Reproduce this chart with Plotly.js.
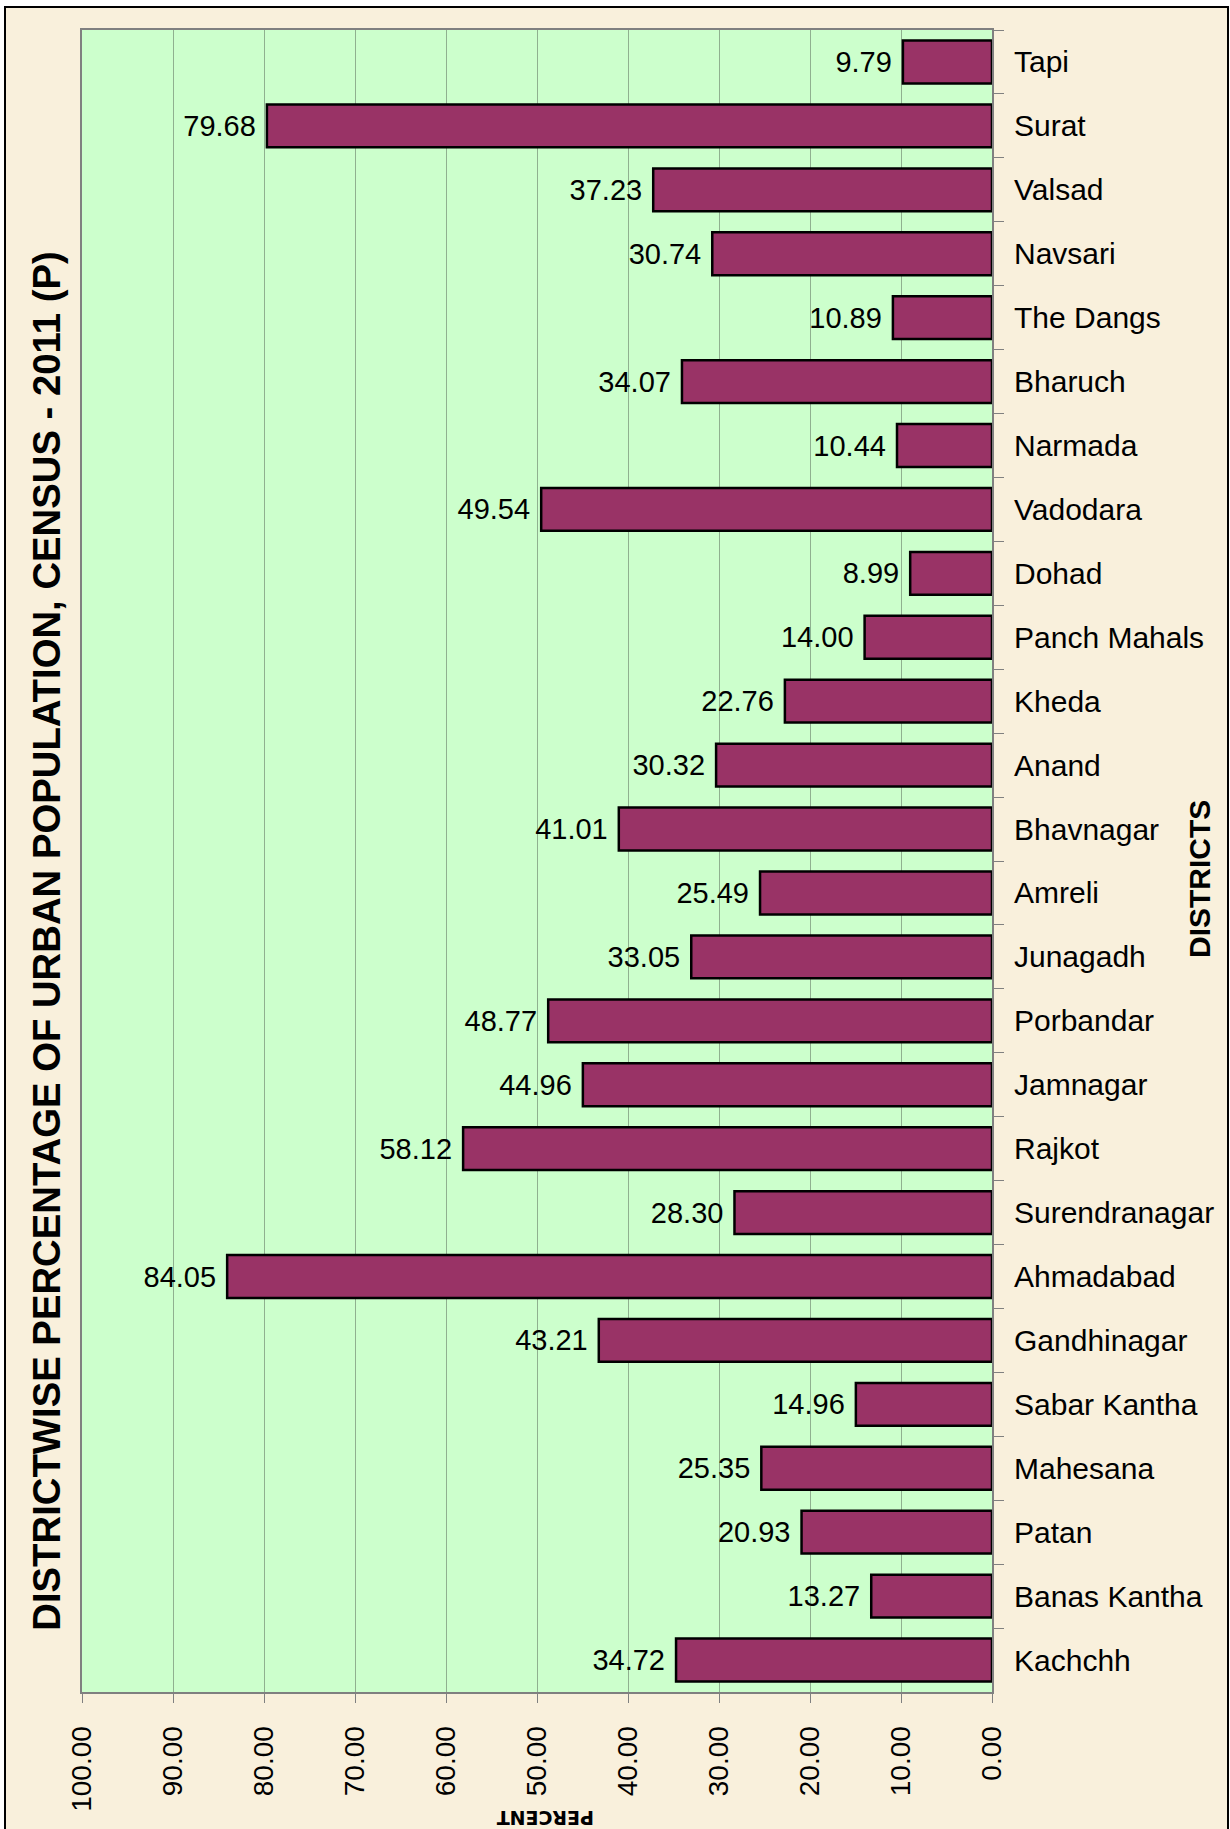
<!DOCTYPE html>
<html>
<head>
<meta charset="utf-8">
<script src="https://cdn.plot.ly/plotly-3.0.1.min.js"></script>
<style>
  html, body { margin: 0; padding: 0; background: #ffffff; }
  #wrap { position: relative; width: 1230px; height: 1829px; overflow: hidden; }
  #chart { position: absolute; left: 0; top: 0; width: 1230px; height: 1829px; }
  .ov { position: absolute; pointer-events: none; }
</style>
</head>
<body>
<div id="wrap">
  <div id="chart"></div>
  <div class="ov" style="left:0;top:0;width:1230px;height:6px;background:#fff;"></div>
  <div class="ov" style="left:0;top:0;width:4px;height:1829px;background:#fff;"></div>
  <div class="ov" style="left:4px;top:6px;width:1224px;height:2px;background:#000;"></div>
  <div class="ov" style="left:4px;top:6px;width:2px;height:1823px;background:#000;"></div>
  <div class="ov" style="left:1227px;top:6px;width:2px;height:1823px;background:#000;"></div>
  <div class="ov" style="left:1229px;top:0;width:1px;height:1829px;background:#fff;"></div>
</div>
<script>
// Districts, listed top to bottom as in the chart
const districts = [
  "Tapi", "Surat", "Valsad", "Navsari", "The Dangs", "Bharuch", "Narmada",
  "Vadodara", "Dohad", "Panch Mahals", "Kheda", "Anand", "Bhavnagar", "Amreli",
  "Junagadh", "Porbandar", "Jamnagar", "Rajkot", "Surendranagar", "Ahmadabad",
  "Gandhinagar", "Sabar Kantha", "Mahesana", "Patan", "Banas Kantha", "Kachchh"
];
// Percentage of urban population, Census 2011 (P)
const urbanPercent = [
  9.79, 79.68, 37.23, 30.74, 10.89, 34.07, 10.44,
  49.54, 8.99, 14.00, 22.76, 30.32, 41.01, 25.49,
  33.05, 48.77, 44.96, 58.12, 28.30, 84.05,
  43.21, 14.96, 25.35, 20.93, 13.27, 34.72
];
const xTickValues = [0, 10, 20, 30, 40, 50, 60, 70, 80, 90, 100];

const chartTitle = "DISTRICTWISE PERCENTAGE OF URBAN POPULATION, CENSUS - 2011 (P)";
const xTitle = "PERCENT";
const yTitle = "DISTRICTS";

const FONT = "Liberation Sans, Arial, sans-serif";

const trace = {
  type: "bar",
  orientation: "h",
  y: districts,
  x: urbanPercent,
  marker: { color: "#993366", line: { color: "#000000", width: 2.5 } },
  texttemplate: "%{x:.2f}\u00a0",
  textposition: "outside",
  constraintext: "none",
  cliponaxis: false,
  textfont: { family: FONT, size: 29, color: "#000000" },
  hoverinfo: "x+y"
};

const layout = {
  width: 1230,
  height: 1829,
  margin: { l: 82, r: 238, t: 30, b: 137 },
  paper_bgcolor: "#f9f0dc",
  plot_bgcolor: "#ccffcc",
  showlegend: false,
  bargap: 0.33,
  font: { family: FONT, color: "#000000" },
  xaxis: {
    range: [100, 0],
    tickvals: xTickValues,
    tickformat: ".2f",
    tickangle: -90,
    ticks: "outside",
    ticklen: 9,
    tickwidth: 1,
    tickcolor: "#808080",
    ticklabelstandoff: 12,
    tickfont: { family: FONT, size: 28, color: "#000000" },
    showgrid: true,
    gridcolor: "#8fb08f",
    gridwidth: 1,
    zeroline: false,
    showline: true,
    linecolor: "#808080",
    linewidth: 2,
    mirror: true
  },
  yaxis: {
    type: "category",
    autorange: "reversed",
    side: "right",
    ticks: "outside",
    tickson: "boundaries",
    ticklen: 10,
    tickwidth: 1,
    tickcolor: "#808080",
    ticklabelstandoff: 14,
    tickfont: { family: FONT, size: 30, color: "#000000" },
    showgrid: false,
    showline: true,
    linecolor: "#808080",
    linewidth: 2,
    mirror: true
  },
  annotations: [
    {
      text: "<b>" + chartTitle + "</b>",
      xref: "paper", yref: "paper",
      x: -0.0385, y: 0.452,
      xanchor: "center", yanchor: "middle",
      textangle: -90,
      showarrow: false,
      font: { family: FONT, size: 38.3, color: "#000000" }
    },
    {
      text: "<b>" + yTitle + "</b>",
      xref: "paper", yref: "paper",
      x: 1.2286, y: 0.4892,
      xanchor: "center", yanchor: "middle",
      textangle: -90,
      showarrow: false,
      font: { family: FONT, size: 30, color: "#000000" }
    },
    {
      text: "<b>" + xTitle + "</b>",
      xref: "paper", yref: "paper",
      x: 0.5099, y: -0.0755,
      xanchor: "center", yanchor: "middle",
      textangle: 180,
      showarrow: false,
      font: { family: "DejaVu Sans, sans-serif", size: 19, color: "#000000" }
    }
  ]
};

Plotly.newPlot("chart", [trace], layout, { displayModeBar: false, staticPlot: true });
</script>
</body>
</html>
